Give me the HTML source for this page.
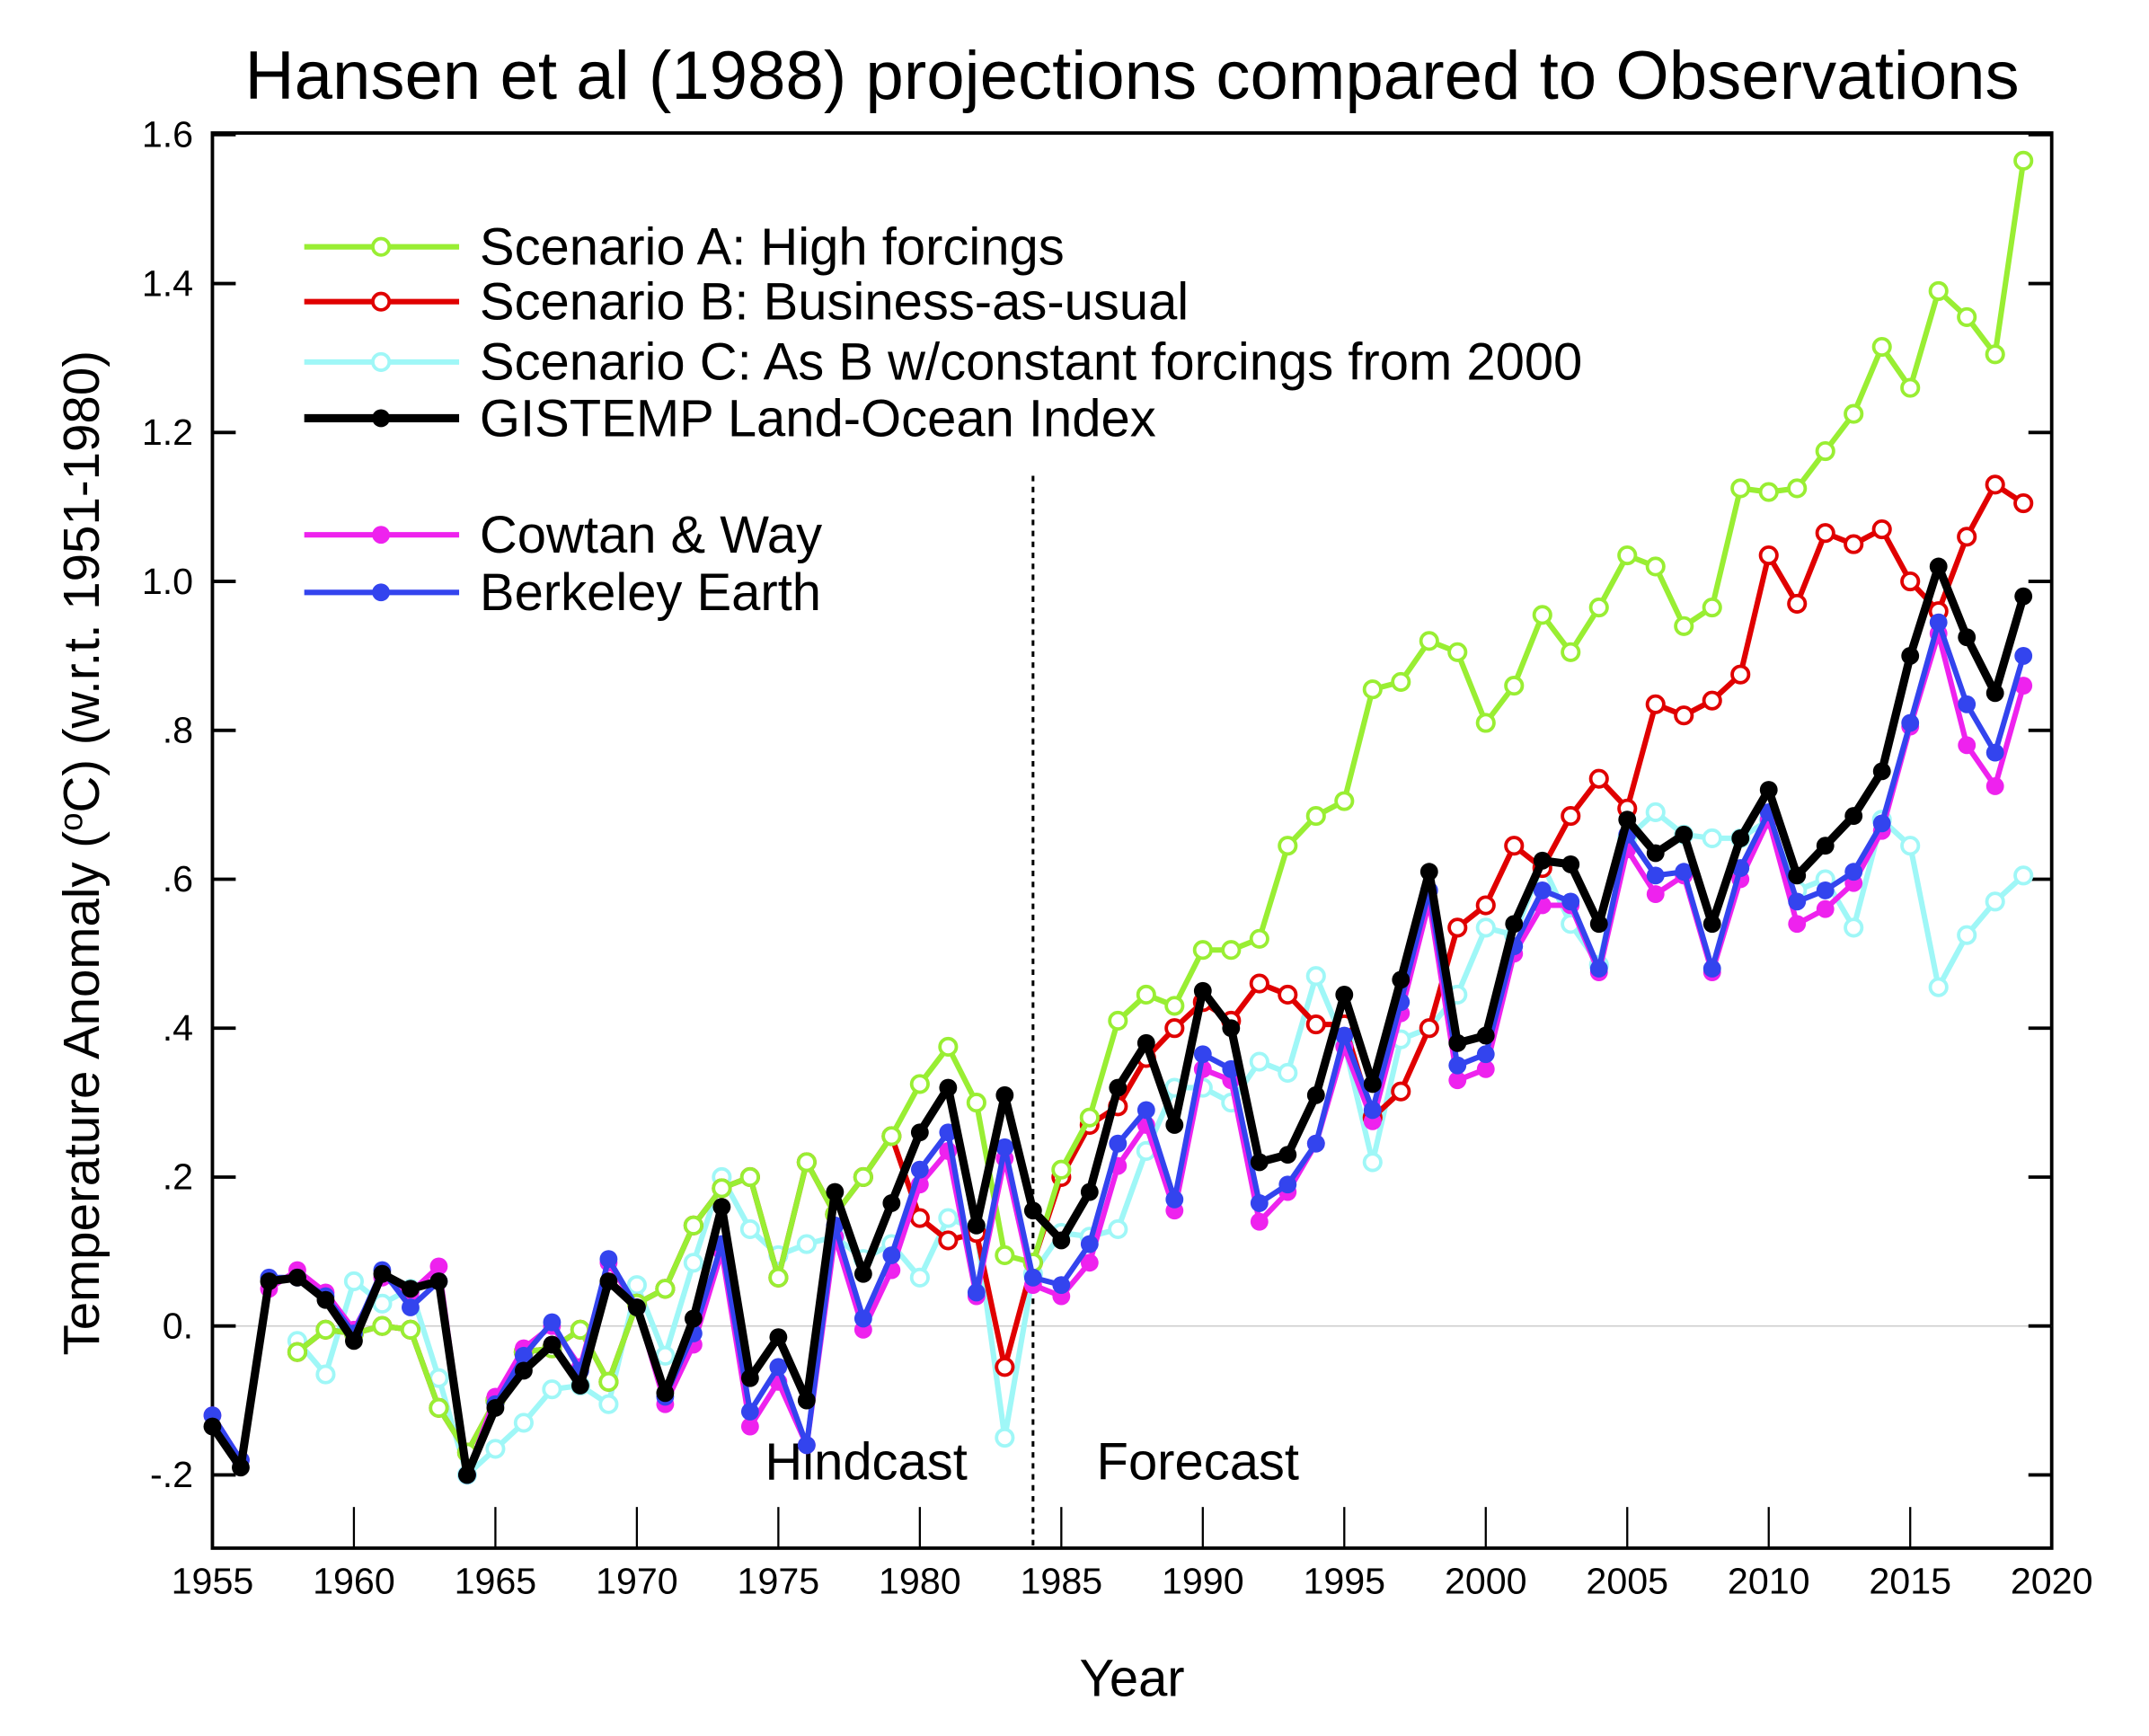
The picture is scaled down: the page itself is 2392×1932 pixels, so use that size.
<!DOCTYPE html>
<html><head><meta charset="utf-8"><style>
html,body{margin:0;padding:0;background:#fff}
svg{display:block}
text{font-family:"Liberation Sans",Arial,sans-serif;fill:#000}
</style></head><body>
<svg id="s" width="2392" height="1932" viewBox="0 0 1568 1266" preserveAspectRatio="none" xmlns="http://www.w3.org/2000/svg"></svg>
<script>
const NS="http://www.w3.org/2000/svg",s=document.getElementById('s');
function el(t,a,txt){const e=document.createElementNS(NS,t);for(const k in a)e.setAttribute(k,a[k]);if(txt!=null)e.textContent=txt;s.appendChild(e);return e;}
const X=y=>155+(y-1955)*(1342/65), Y=v=>967-v*543;
el('rect',{x:155,y:97,width:1342,height:1032,fill:'none',stroke:'#000','stroke-width':2.5});
el('line',{x1:155,x2:1497,y1:967,y2:967,stroke:'#ccc','stroke-width':1});
const yl={'-0.2':'-.2','0':'0.','0.2':'.2','0.4':'.4','0.6':'.6','0.8':'.8','1':'1.0','1.2':'1.2','1.4':'1.4','1.6':'1.6'};
for(const k in yl){const v=+k,y=Y(v);
 el('line',{x1:155,x2:172,y1:y,y2:y,stroke:'#000','stroke-width':2.5});
 el('line',{x1:1480,x2:1497,y1:y,y2:y,stroke:'#000','stroke-width':2.5});
 el('text',{x:141,y:y+9,'font-size':27,'text-anchor':'end'},yl[k]);}
for(let yr=1955;yr<=2020;yr+=5){const x=X(yr);
 el('line',{x1:x,x2:x,y1:1129,y2:1099,stroke:'#000','stroke-width':1.5});
 el('text',{x:x,y:1162,'font-size':27,'text-anchor':'middle'},yr);}
el('text',{x:826,y:72,'font-size':50,'text-anchor':'middle'},'Hansen et al (1988) projections compared to Observations');
el('text',{x:826,y:1237,'font-size':38,'text-anchor':'middle'},'Year');
const yt=el('text',{x:0,y:0,'font-size':37,'text-anchor':'middle',transform:'translate(72,622) rotate(-90)'});
yt.innerHTML='Temperature Anomaly (<tspan dy="-12" font-size="24">o</tspan><tspan dy="12">C) (w.r.t. 1951-1980)</tspan>';
el('line',{x1:X(1984),x2:X(1984),y1:347,y2:1129,stroke:'#000','stroke-width':2,'stroke-dasharray':'4,4'});
el('text',{x:632,y:1079,'font-size':38,'text-anchor':'middle'},'Hindcast');
el('text',{x:874,y:1079,'font-size':38,'text-anchor':'middle'},'Forecast');
const G=[-0.135,-0.19,0.06,0.065,0.035,-0.02,0.07,0.05,0.06,-0.2,-0.11,-0.06,-0.025,-0.08,0.06,0.025,-0.09,0.01,0.16,-0.07,-0.015,-0.1,0.18,0.07,0.165,0.26,0.32,0.135,0.31,0.155,0.115,0.18,0.32,0.38,0.27,0.45,0.4,0.22,0.23,0.31,0.445,0.325,0.465,0.61,0.38,0.39,0.54,0.625,0.62,0.54,0.68,0.635,0.66,0.54,0.655,0.72,0.605,0.645,0.685,0.745,0.9,1.02,0.925,0.85,0.98];
const BE=[-0.12,-0.18,0.065,0.065,0.04,-0.01,0.075,0.025,0.06,-0.2,-0.105,-0.04,0.005,-0.06,0.09,0.025,-0.095,-0.01,0.11,-0.115,-0.055,-0.16,0.135,0.01,0.095,0.21,0.26,0.045,0.24,0.065,0.055,0.11,0.245,0.29,0.17,0.365,0.345,0.165,0.19,0.245,0.39,0.29,0.435,0.585,0.35,0.365,0.51,0.585,0.57,0.48,0.66,0.605,0.61,0.48,0.615,0.69,0.57,0.585,0.61,0.675,0.81,0.945,0.835,0.77,0.9];
const CW=[-0.12,-0.18,0.05,0.075,0.045,-0.005,0.065,0.045,0.08,-0.2,-0.095,-0.03,0,-0.055,0.085,0.025,-0.105,-0.025,0.1,-0.135,-0.075,-0.16,0.12,-0.005,0.075,0.19,0.235,0.04,0.225,0.055,0.04,0.085,0.215,0.27,0.155,0.345,0.33,0.14,0.18,0.245,0.375,0.275,0.42,0.57,0.33,0.345,0.5,0.565,0.565,0.475,0.64,0.58,0.605,0.475,0.6,0.68,0.54,0.56,0.595,0.665,0.805,0.93,0.78,0.725,0.86];
const A=[-0.035,-0.005,-0.01,0,-0.005,-0.11,-0.17,-0.1,-0.035,-0.03,-0.005,-0.075,0.03,0.05,0.135,0.185,0.2,0.065,0.22,0.15,0.2,0.255,0.325,0.375,0.3,0.095,0.085,0.21,0.28,0.41,0.445,0.43,0.505,0.505,0.52,0.645,0.685,0.705,0.855,0.865,0.92,0.905,0.81,0.86,0.955,0.905,0.965,1.035,1.02,0.94,0.965,1.125,1.12,1.125,1.175,1.225,1.315,1.26,1.39,1.355,1.305,1.565];
const C=[-0.02,-0.065,0.06,0.03,0.05,-0.07,-0.2,-0.165,-0.13,-0.085,-0.08,-0.105,0.055,-0.04,0.085,0.2,0.13,0.095,0.11,0.12,0.09,0.11,0.065,0.145,0.13,-0.15,0.07,0.125,0.12,0.13,0.235,0.32,0.32,0.3,0.355,0.34,0.47,0.38,0.22,0.385,0.4,0.445,0.535,0.525,0.62,0.54,0.485,0.655,0.69,0.66,0.655,0.655,0.68,0.585,0.6,0.535,0.68,0.645,0.455,0.525,0.57,0.605];
const B=A.slice(0,22).concat([0.145,0.115,0.125,-0.055,0.085,0.2,0.27,0.295,0.36,0.4,0.435,0.41,0.46,0.445,0.405,0.405,0.28,0.315,0.4,0.535,0.565,0.645,0.615,0.685,0.735,0.695,0.835,0.82,0.84,0.875,1.035,0.97,1.065,1.05,1.07,1.0,0.96,1.06,1.13,1.105]);
function series(d,y0,col,w,open){
 const pts=d.map((v,i)=>X(y0+i).toFixed(1)+','+Y(v).toFixed(1));
 el('polyline',{points:pts.join(' '),fill:'none',stroke:col,'stroke-width':w,'stroke-linejoin':'round'});
 d.forEach((v,i)=>{ if(open) el('circle',{cx:X(y0+i),cy:Y(v),r:6,fill:'#fff',stroke:col,'stroke-width':2.5});
  else el('circle',{cx:X(y0+i),cy:Y(v),r:6.5,fill:col});});
}
series(C,1958,'#9ff7f7',4,true);
series(B,1958,'#e00000',4,true);
series(A,1958,'#99ee33',4,true);
series(CW,1955,'#ee22ee',4,false);
series(BE,1955,'#3344ee',4,false);
series(G,1955,'#000',6,false);
const L=[[180,'#99ee33',4,true,'Scenario A: High forcings'],[220,'#e00000',4,true,'Scenario B: Business-as-usual'],[264,'#9ff7f7',4,true,'Scenario C: As B w/constant forcings from 2000'],[305,'#000',6,false,'GISTEMP Land-Ocean Index'],[390,'#ee22ee',4,false,'Cowtan & Way'],[432,'#3344ee',4,false,'Berkeley Earth']];
L.forEach(([y,c,w,o,t])=>{el('line',{x1:222,x2:335,y1:y,y2:y,stroke:c,'stroke-width':w});
 if(o)el('circle',{cx:278,cy:y,r:6,fill:'#fff',stroke:c,'stroke-width':2.5});else el('circle',{cx:278,cy:y,r:6.5,fill:c});
 el('text',{x:350,y:y+13,'font-size':38},t);});
</script>
</body></html>
